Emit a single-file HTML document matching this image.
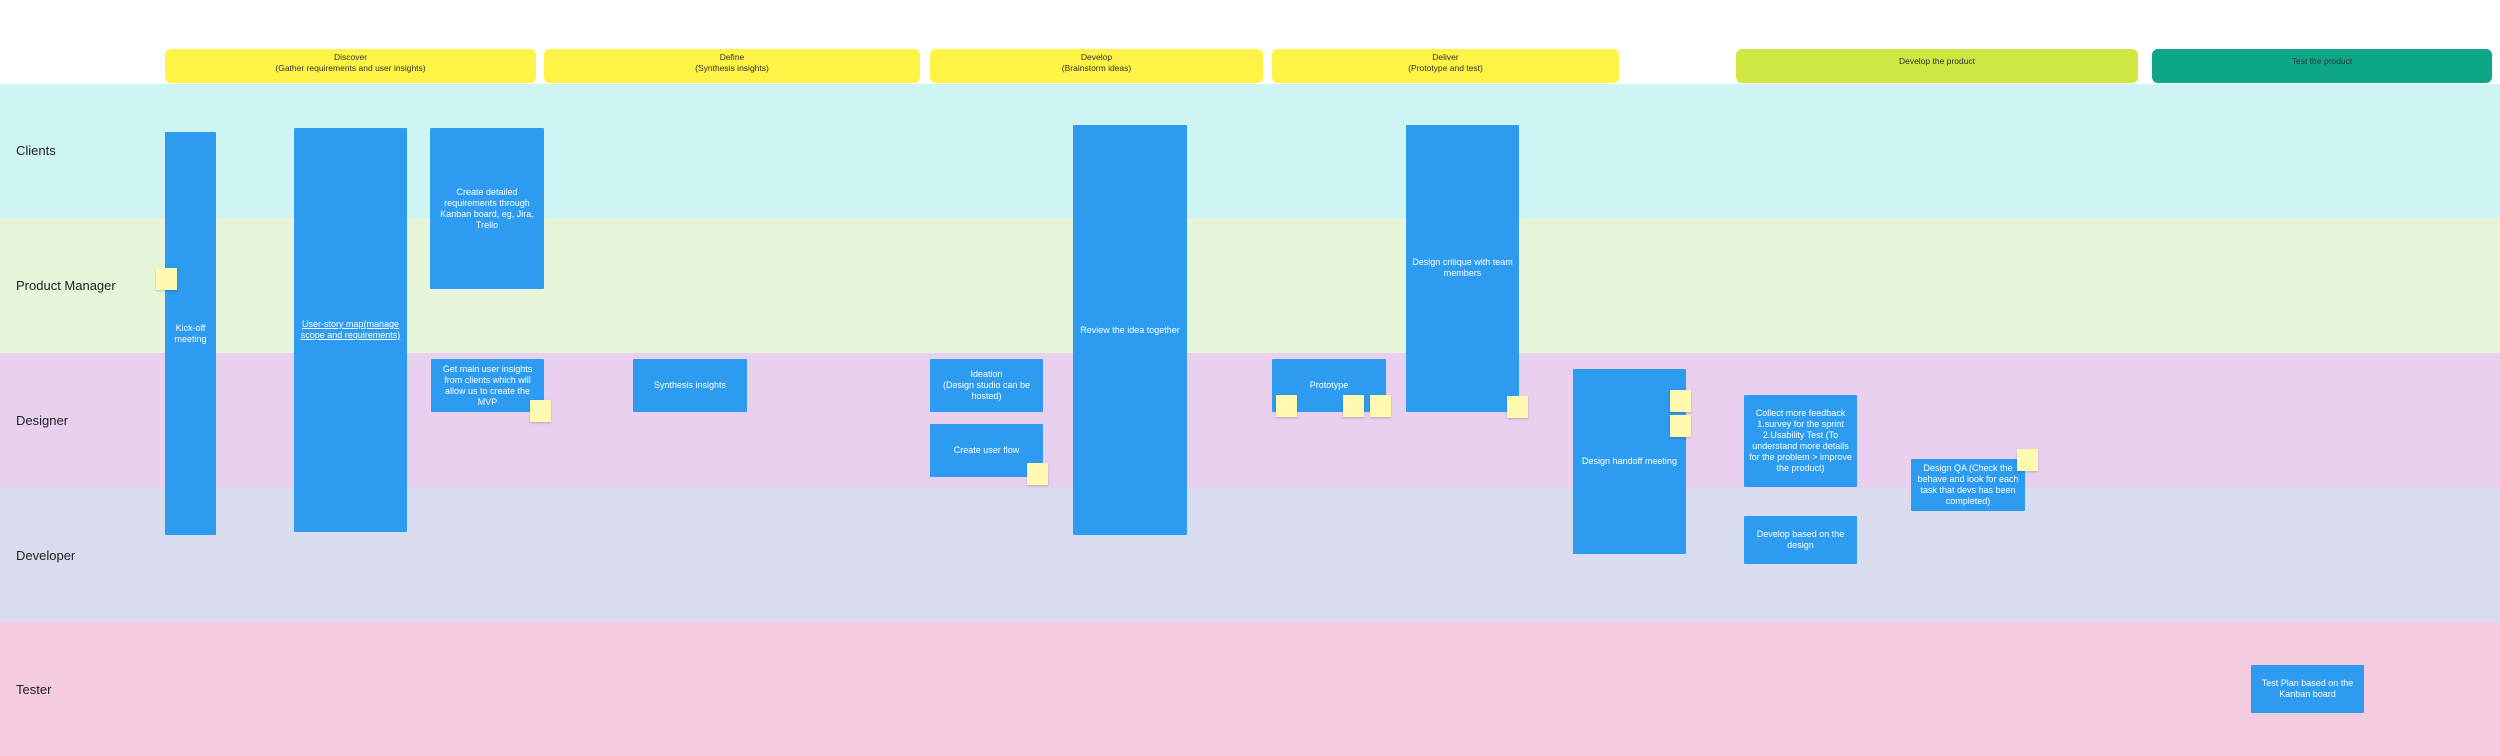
<!DOCTYPE html>
<html><head><meta charset="utf-8"><style>
body{margin:0;width:2500px;height:756px;position:relative;overflow:hidden;background:#fff;font-family:"Liberation Sans",sans-serif}
.l{position:absolute;left:0;width:2500px}
.lab{position:absolute;left:16px;font-size:13px;color:#222}
.h{position:absolute;top:49px;height:34px;border-radius:6px;background:#fff345;font-size:8.5px;line-height:11px;text-align:center;color:#333;box-sizing:border-box;padding-top:3px}
.b{position:absolute;background:#2d9bf0;color:#fff;font-size:9px;line-height:11px;display:flex;align-items:center;justify-content:center;text-align:center;box-sizing:border-box;padding:0 3px;border-radius:1px}
.s{position:absolute;width:21px;height:22px;background:#fff9b1;box-shadow:0 1px 2px rgba(0,0,0,.2);font-size:2px;color:#555}
</style></head><body>
<div class="l" style="top:84px;height:134px;background:#cff4f4"></div>
<div class="l" style="top:218px;height:135px;background:#e6f5da"></div>
<div class="l" style="top:353px;height:135px;background:#e9d0ee"></div>
<div class="l" style="top:488px;height:134px;background:#d9dbef"></div>
<div class="l" style="top:622px;height:134px;background:#f5cbe0"></div>
<div class="lab" style="top:143px">Clients</div>
<div class="lab" style="top:278px">Product Manager</div>
<div class="lab" style="top:413px">Designer</div>
<div class="lab" style="top:548px">Developer</div>
<div class="lab" style="top:682px">Tester</div>

<div class="h" style="left:165px;width:371px">Discover<br>(Gather requirements and user insights)</div>
<div class="h" style="left:544px;width:376px">Define<br>(Synthesis insights)</div>
<div class="h" style="left:930px;width:333px">Develop<br>(Brainstorm ideas)</div>
<div class="h" style="left:1272px;width:347px">Deliver<br>(Prototype and test)</div>
<div class="h" style="left:1736px;width:402px;background:#d0e741;padding-top:7px">Develop the product</div>
<div class="h" style="left:2152px;width:340px;background:#0ea689;padding-top:7px">Test the product</div>

<div class="b" style="left:165px;top:132px;width:51px;height:403px">Kick-off<br>meeting</div>
<div class="b" style="left:294px;top:128px;width:113px;height:404px;text-decoration:underline">User-story map(manage scope and requirements)</div>
<div class="b" style="left:430px;top:128px;width:114px;height:161px">Create detailed requirements through Kanban board, eg, Jira, Trello</div>
<div class="b" style="left:431px;top:359px;width:113px;height:53px">Get main user insights from clients which will allow us to create the MVP</div>
<div class="b" style="left:633px;top:359px;width:114px;height:53px">Synthesis insights</div>
<div class="b" style="left:930px;top:359px;width:113px;height:53px">Ideation<br>(Design studio can be hosted)</div>
<div class="b" style="left:930px;top:424px;width:113px;height:53px">Create user flow</div>
<div class="b" style="left:1073px;top:125px;width:114px;height:410px">Review the idea together</div>
<div class="b" style="left:1272px;top:359px;width:114px;height:53px">Prototype</div>
<div class="b" style="left:1406px;top:125px;width:113px;height:287px;align-items:flex-start;padding-top:132px">Design critique with team members</div>
<div class="b" style="left:1573px;top:369px;width:113px;height:185px">Design handoff meeting</div>
<div class="b" style="left:1744px;top:395px;width:113px;height:92px">Collect more feedback<br>1.survey for the sprint<br>2.Usability Test (To understand more details for the problem &gt; improve the product)</div>
<div class="b" style="left:1744px;top:516px;width:113px;height:48px">Develop based on the design</div>
<div class="b" style="left:1911px;top:459px;width:114px;height:52px">Design QA (Check the behave and look for each task that devs has been completed)</div>
<div class="b" style="left:2251px;top:665px;width:113px;height:48px">Test Plan based on the Kanban board</div>

<div class="s" style="left:156px;top:268px"></div>
<div class="s" style="left:530px;top:400px"></div>
<div class="s" style="left:1027px;top:463px"></div>
<div class="s" style="left:1276px;top:395px"></div>
<div class="s" style="left:1343px;top:395px"></div>
<div class="s" style="left:1370px;top:395px"></div>
<div class="s" style="left:1507px;top:396px"></div>
<div class="s" style="left:1670px;top:390px"></div>
<div class="s" style="left:1670px;top:415px"></div>
<div class="s" style="left:2017px;top:449px"></div>
</body></html>
